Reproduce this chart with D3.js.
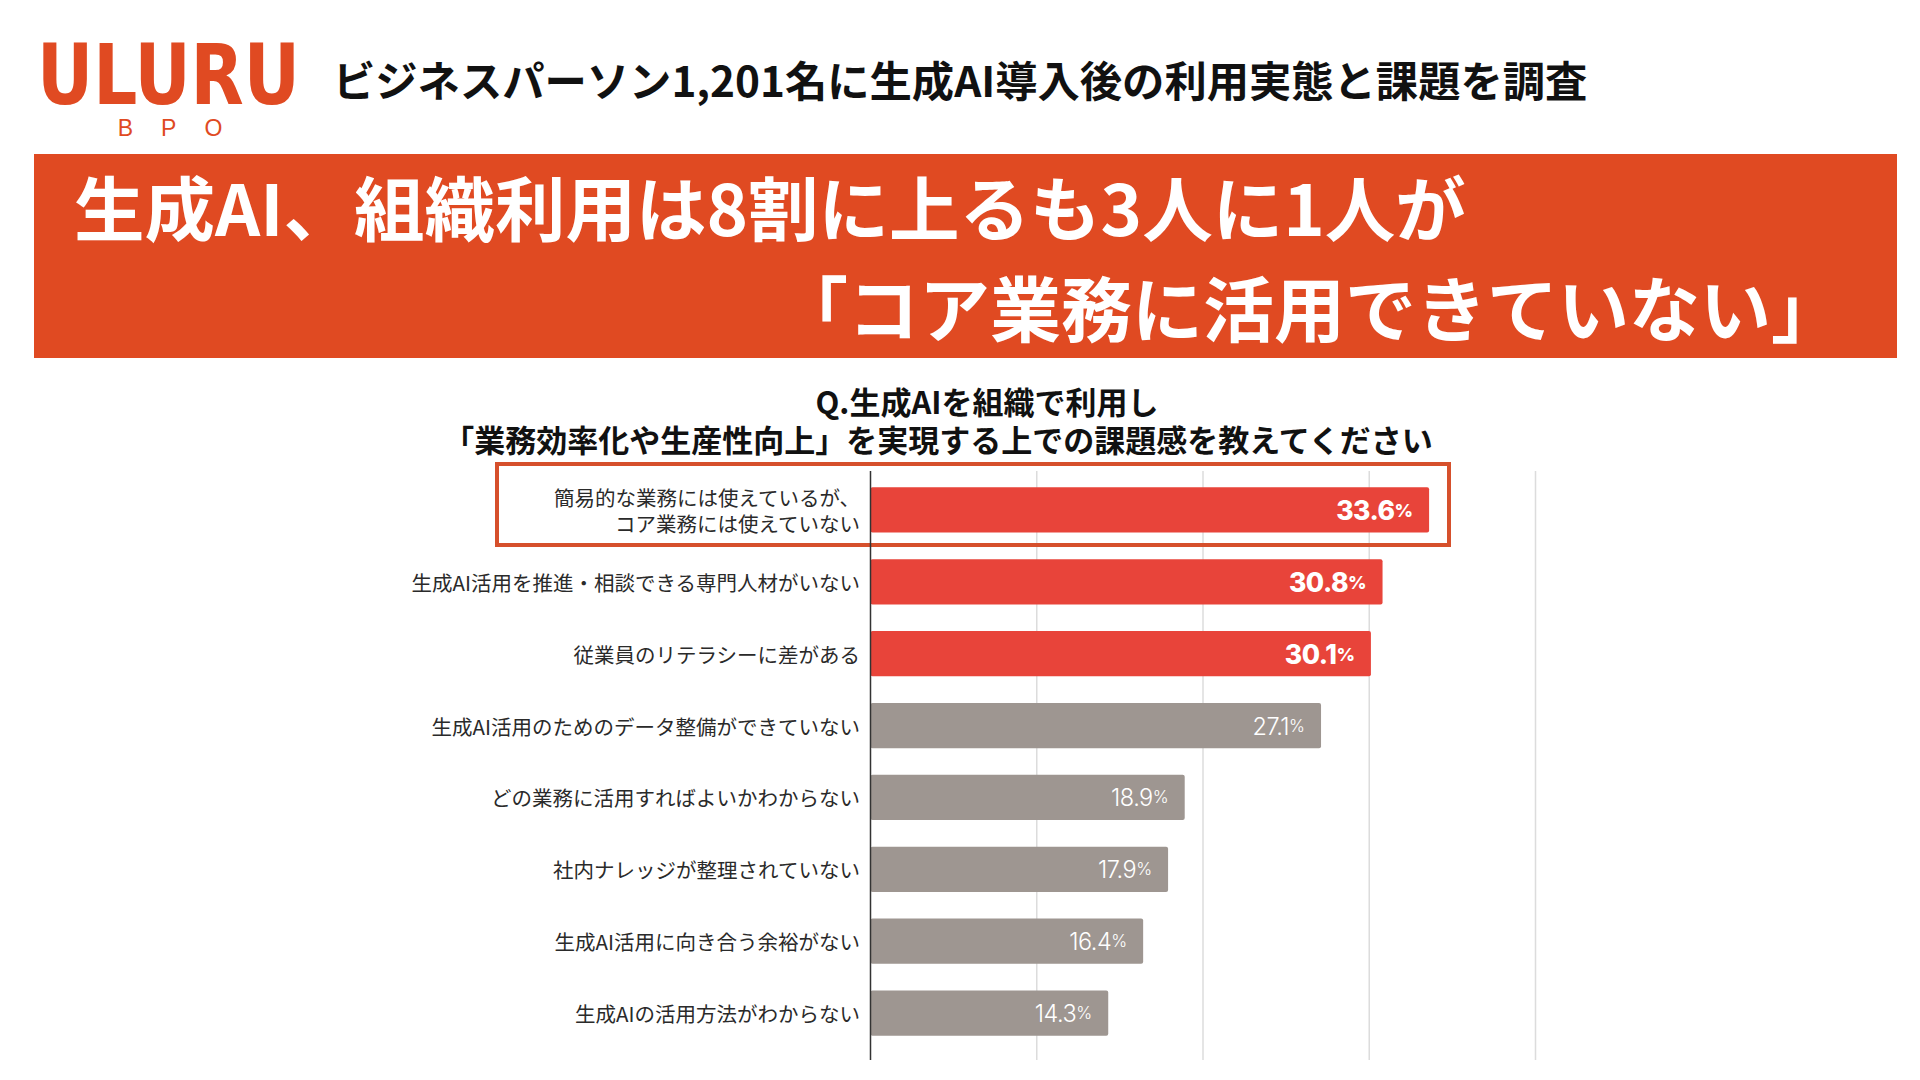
<!DOCTYPE html>
<html>
<head>
<meta charset="utf-8">
<script src="https://d3js.org/d3.v7.min.js"></script>
<style>
  body { margin: 0; background: #fff; }
  svg { display: block; }
  text { font-family: "Noto Sans CJK JP", "Noto Sans", sans-serif; }
</style>
</head>
<body>
<svg id="chart" width="1920" height="1080"></svg>
<script>
// survey answers, top to bottom
const categories = [
  ["簡易的な業務には使えているが、", "コア業務には使えていない"],
  ["生成AI活用を推進・相談できる専門人材がいない"],
  ["従業員のリテラシーに差がある"],
  ["生成AI活用のためのデータ整備ができていない"],
  ["どの業務に活用すればよいかわからない"],
  ["社内ナレッジが整理されていない"],
  ["生成AI活用に向き合う余裕がない"],
  ["生成AIの活用方法がわからない"]
]
const values = [33.6, 30.8, 30.1, 27.1, 18.9, 17.9, 16.4, 14.3]
const gridTicks = [0, 10, 20, 30, 40]
const topCount = 3   // first three bars are highlighted in red

const headline = "ビジネスパーソン1,201名に生成AI導入後の利用実態と課題を調査"
const bannerLines = ["生成AI、組織利用は8割に上るも3人に1人が", "「コア業務に活用できていない」"]
const questionLines = ["Q.生成AIを組織で利用し", "「業務効率化や生産性向上」を実現する上での課題感を教えてください"]

const orange = "#e04a22"
const red = "#e8443a"
const grey = "#9e9691"

const svg = d3.select("#chart")

// ---- header / logo ----
svg.append("text")
  .attr("x", 37).attr("y", 104)
  .attr("textLength", 263).attr("lengthAdjust", "spacingAndGlyphs")
  .style("font-family", "'DejaVu Sans Condensed', 'DejaVu Sans', sans-serif")
  .style("font-weight", 700)
  .style("font-size", "84px")
  .attr("fill", orange)
  .text("ULURU")

svg.append("text")
  .attr("x", 184).attr("y", 136)
  .attr("text-anchor", "middle")
  .style("font-family", "'Liberation Sans', sans-serif")
  .style("font-size", "23px")
  .style("letter-spacing", "28px")
  .attr("fill", orange)
  .text("BPO")

svg.append("text")
  .attr("x", 333).attr("y", 78)
  .attr("dominant-baseline", "central")
  .style("font-weight", 700)
  .style("font-size", "42.3px")
  .attr("fill", "#111")
  .text(headline)

// ---- banner ----
svg.append("rect")
  .attr("x", 34).attr("y", 154)
  .attr("width", 1863).attr("height", 204)
  .attr("fill", orange)

svg.append("text")
  .attr("x", 74).attr("y", 205)
  .attr("dominant-baseline", "central")
  .style("font-weight", 700)
  .style("font-size", "70.5px")
  .attr("fill", "#fff")
  .text(bannerLines[0])

svg.append("text")
  .attr("x", 1842).attr("y", 305)
  .attr("dominant-baseline", "central")
  .attr("text-anchor", "end")
  .style("font-weight", 700)
  .style("font-size", "71px")
  .attr("fill", "#fff")
  .text(bannerLines[1])

// ---- question ----
svg.append("text")
  .attr("x", 987).attr("y", 400)
  .attr("text-anchor", "middle")
  .attr("dominant-baseline", "central")
  .style("font-weight", 700)
  .style("font-size", "31px")
  .attr("fill", "#111")
  .text(questionLines[0])

svg.append("text")
  .attr("x", 938).attr("y", 438)
  .attr("text-anchor", "middle")
  .attr("dominant-baseline", "central")
  .style("font-weight", 700)
  .style("font-size", "31px")
  .attr("fill", "#111")
  .text(questionLines[1])

// ---- chart ----
const x = d3.scaleLinear()
  .domain([0, 40])
  .range([870.5, 1535.5])

const y = d3.scaleBand()
  .domain(d3.range(values.length))
  .range([474, 1049])
  .paddingInner(0.37)
  .paddingOuter(0.185)

// gridlines
svg.append("g")
  .selectAll("line")
  .data(gridTicks.slice(1))
  .join("line")
    .attr("x1", d => x(d)).attr("x2", d => x(d))
    .attr("y1", 471).attr("y2", 1060)
    .attr("stroke", "#dcdcdc")
    .attr("stroke-width", 1.5)

// highlight box round the first answer
svg.append("rect")
  .attr("x", 497).attr("y", 464)
  .attr("width", 952).attr("height", 81)
  .attr("fill", "none")
  .attr("stroke", "#d6502c")
  .attr("stroke-width", 4)

// bars
svg.append("g")
  .selectAll("rect")
  .data(values)
  .join("rect")
    .attr("x", x(0))
    .attr("y", (d, i) => y(i))
    .attr("width", d => x(d) - x(0))
    .attr("height", y.bandwidth())
    .attr("rx", 2)
    .attr("fill", (d, i) => i < topCount ? red : grey)

// zero axis line
svg.append("line")
  .attr("x1", x(0)).attr("x2", x(0))
  .attr("y1", 471).attr("y2", 1060)
  .attr("stroke", "#333")
  .attr("stroke-width", 1.5)

// value labels
const valueLabels = svg.append("g")
  .selectAll("text")
  .data(values)
  .join("text")
    .attr("x", d => x(d) - 16)
    .attr("y", (d, i) => y(i) + y.bandwidth() / 2)
    .attr("text-anchor", "end")
    .attr("dominant-baseline", "central")
    .attr("fill", "#fff")
    .style("font-family", "Inter, Lato, sans-serif")
    .style("font-weight", (d, i) => i < topCount ? 800 : 300)

valueLabels.append("tspan")
  .style("font-size", (d, i) => i < topCount ? "26.5px" : "23.5px")
  .style("letter-spacing", "-0.5px")
  .text(d => d.toFixed(1))
valueLabels.append("tspan")
  .style("font-size", (d, i) => i < topCount ? "18px" : "17px")
  .text("%")

// category labels
const catLabels = svg.append("g")
  .selectAll("text")
  .data(categories)
  .join("text")
    .attr("x", 860)
    .attr("y", (d, i) => y(i) + y.bandwidth() / 2)
    .attr("text-anchor", "end")
    .attr("dominant-baseline", "central")
    .style("font-size", "20.5px")
    .attr("fill", "#2a2a2a")

catLabels.selectAll("tspan")
  .data((d, i) => d.map((t, k) => ({ t, k, n: d.length })))
  .join("tspan")
    .attr("x", 860)
    .attr("dy", d => d.k === 0 ? -(d.n - 1) * 13 : 26)
    .text(d => d.t)
</script>
</body>
</html>
